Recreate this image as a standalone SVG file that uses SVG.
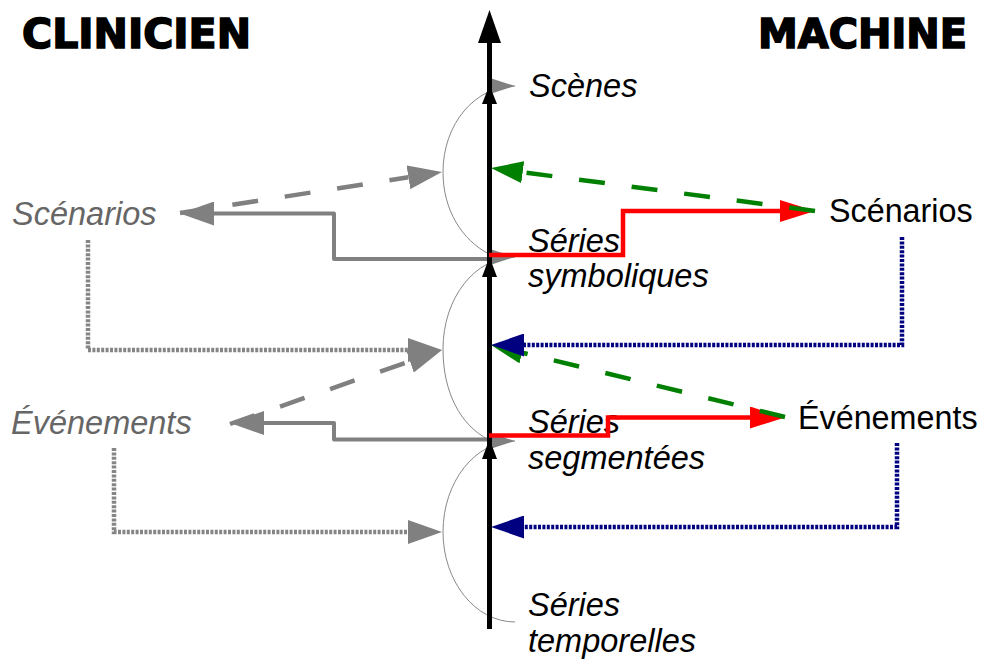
<svg xmlns="http://www.w3.org/2000/svg" width="987" height="660" viewBox="0 0 987 660">
<style>
.title{font-family:"DejaVu Sans","Liberation Sans",sans-serif;font-weight:bold;font-size:41px;fill:#000;stroke:#000;stroke-width:1.6px}
.lvl{font-family:"Liberation Sans",Arial,sans-serif;font-style:italic;font-size:32.5px;fill:#000}
.clin{font-family:"Liberation Sans",Arial,sans-serif;font-style:italic;font-size:32.5px;fill:#666}
.mach{font-family:"Liberation Sans",Arial,sans-serif;font-size:32.3px;fill:#000}
.arc{fill:none;stroke:#888;stroke-width:1}
.gsolid{fill:none;stroke:#808080;stroke-width:4;stroke-linejoin:round}
.gdash{fill:none;stroke:#808080;stroke-width:4.5;stroke-dasharray:26 27}
.gdot{fill:none;stroke:#858585;stroke-width:4.5;stroke-dasharray:3 1.4}
.red{fill:none;stroke:#ff0000;stroke-width:4.5;stroke-linejoin:miter}
.green{fill:none;stroke:#008000;stroke-width:4.5;stroke-dasharray:26 27}
.blue{fill:none;stroke:#000080;stroke-width:4.5;stroke-dasharray:3 1.4}
.axis{fill:none;stroke:#000;stroke-width:5}
</style>
<defs>
<marker id="mGray" markerUnits="userSpaceOnUse" markerWidth="34" markerHeight="24" viewBox="0 0 34 24" refX="0" refY="12" orient="auto"><path d="M0,0 L34,12 L0,24 z" fill="#808080"/></marker>
<marker id="mArc" markerUnits="userSpaceOnUse" markerWidth="25" markerHeight="16" viewBox="0 0 25 16" refX="25" refY="8" orient="auto"><path d="M0,0 L25,8 L0,16 z" fill="#808080"/></marker>
<marker id="mRed" markerUnits="userSpaceOnUse" markerWidth="35" markerHeight="22" viewBox="0 0 35 22" refX="0" refY="11" orient="auto"><path d="M0,0 L35,11 L0,22 z" fill="#ff0000"/></marker>
<marker id="mGreen" markerUnits="userSpaceOnUse" markerWidth="32" markerHeight="22" viewBox="0 0 32 22" refX="0" refY="11" orient="auto"><path d="M0,0 L32,11 L0,22 z" fill="#008000"/></marker>
<marker id="mBlue" markerUnits="userSpaceOnUse" markerWidth="33" markerHeight="23" viewBox="0 0 33 23" refX="0" refY="11.5" orient="auto"><path d="M0,0 L33,11.5 L0,23 z" fill="#000080"/></marker>
</defs>
<rect width="987" height="660" fill="#fff"/>

<g id="title-clinicien"><text class="title" x="22" y="48" textLength="229" lengthAdjust="spacingAndGlyphs">CLINICIEN</text></g>
<g id="title-machine"><text class="title" x="758" y="48" textLength="209" lengthAdjust="spacingAndGlyphs">MACHINE</text></g>

<g id="lvl-scenes"><text class="lvl" x="529" y="97">Scènes</text></g>
<g id="lvl-symboliques"><text class="lvl" x="528" y="252">Séries</text><text class="lvl" x="528" y="287">symboliques</text></g>
<g id="lvl-segmentees"><text class="lvl" x="528" y="433">Séries</text><text class="lvl" x="528" y="469">segmentées</text></g>
<g id="lvl-temporelles"><text class="lvl" x="528" y="616">Séries</text><text class="lvl" x="528" y="652">temporelles</text></g>

<g id="clin-scenarios"><text class="clin" x="12" y="225">Scénarios</text></g>
<g id="clin-evenements"><text class="clin" x="11" y="434">Événements</text></g>
<g id="mach-scenarios"><text class="mach" x="829" y="222">Scénarios</text></g>
<g id="mach-evenements"><text class="mach" x="798" y="429">Événements</text></g>

<g id="connectors">
<path class="arc" d="M489,254 C462,240 443,210 443,172 C443,124 475,86 515,86" marker-end="url(#mArc)"/>
<path class="arc" d="M489,440 C460,425 443,392 443,349 C443,298 475,257 515,257" marker-end="url(#mArc)"/>
<path class="arc" d="M515,622 C475,622 443,581 443,532 C443,482 475,441 515,441" marker-end="url(#mArc)"/>

<path class="gsolid" d="M489,259 H334 V213.5 H214" marker-end="url(#mGray)"/>
<path class="gsolid" d="M489,439.5 H334 V423 H264" marker-end="url(#mGray)"/>
<path class="gdash" d="M180,213 L408.4,177.3" marker-end="url(#mGray)"/>
<path class="gdash" d="M230,424 L409.9,361.2" marker-end="url(#mGray)"/>
<path class="gdot" d="M88,240 V350 H408" marker-end="url(#mGray)"/>
<path class="gdot" d="M114,448 V532 H408" marker-end="url(#mGray)"/>

<line class="axis" x1="489.5" y1="629" x2="489.5" y2="42"/>
<polygon points="489.5,10 478,43 501,43" fill="#000"/>
<polygon points="489.5,85 482,104 497,104" fill="#000"/>
<polygon points="489.5,257 482,277 497,277" fill="#000"/>
<polygon points="489.5,439 482,459 497,459" fill="#000"/>

<path class="red" d="M489,255 H623 V211 H780" marker-end="url(#mRed)"/>
<path class="red" d="M489,435.5 H608 V417.5 H750" marker-end="url(#mRed)"/>
<path class="green" d="M815,211 L522.7,172.2" marker-end="url(#mGreen)"/>
<path class="green" d="M785,417 L522.1,352.6" marker-end="url(#mGreen)"/>
<path class="blue" d="M902,237 V345 H524" marker-end="url(#mBlue)"/>
<path class="blue" d="M897,443 V527 H524" marker-end="url(#mBlue)"/>
</g>
</svg>
